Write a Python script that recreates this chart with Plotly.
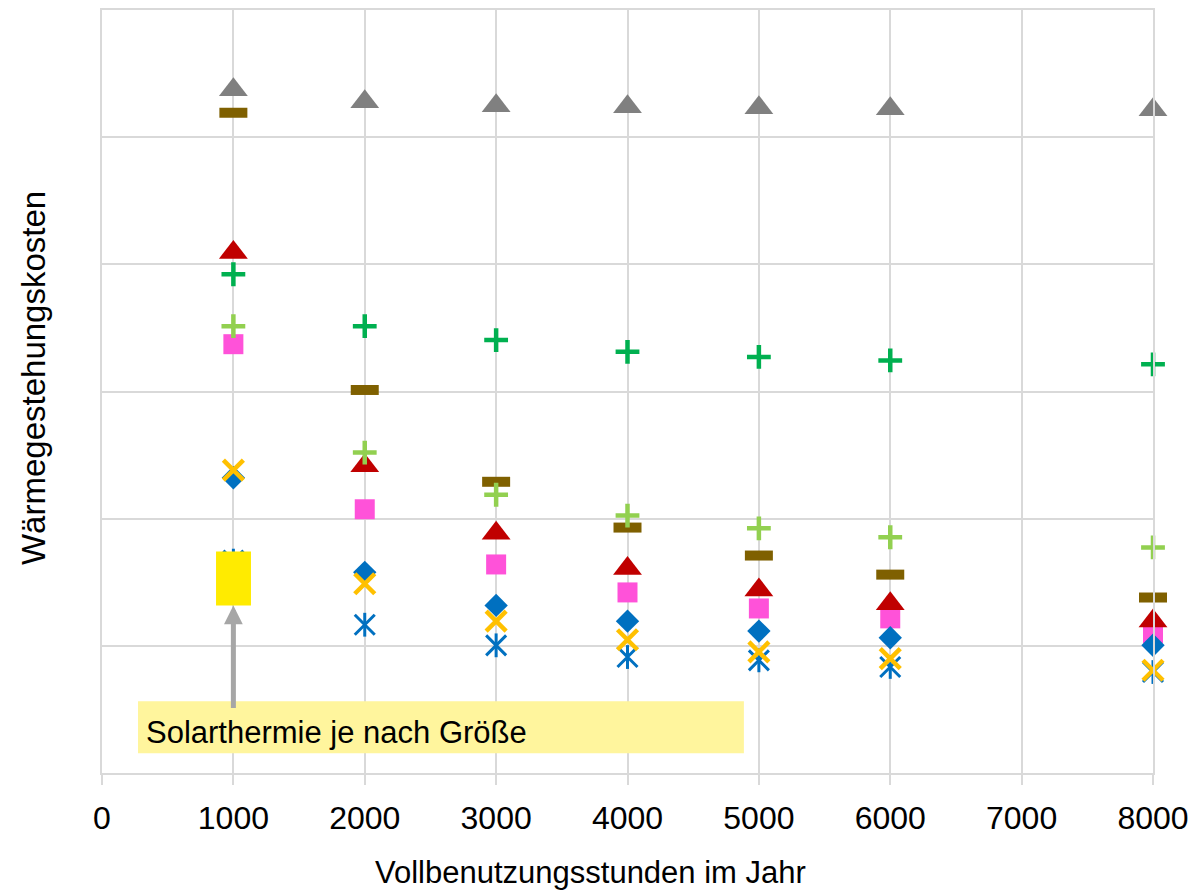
import plotly.graph_objects as go

# ---------------- data ----------------
hours = [1000, 2000, 3000, 4000, 5000, 6000, 8000]
x_ticks = [0, 1000, 2000, 3000, 4000, 5000, 6000, 7000, 8000]

gray_tri = [26.86, 26.39, 26.24, 26.20, 26.16, 26.12, 26.08]
brown_dash = [25.96, 15.06, 11.45, 9.65, 8.55, 7.80, 6.90]
red_tri = [20.47, 12.08, 9.43, 8.04, 7.20, 6.65, 5.98]
dgreen_plus = [19.61, 17.57, 17.02, 16.56, 16.36, 16.22, 16.07]
lgreen_plus = [17.57, 12.60, 10.94, 10.12, 9.62, 9.27, 8.87]
pink_sq = [16.86, 10.37, 8.20, 7.10, 6.47, 6.08, 5.49]
blue_dia = [11.61, 7.89, 6.59, 5.97, 5.58, 5.32, 5.02]
orange_x = [11.91, 7.44, 5.97, 5.24, 4.76, 4.50, 4.04]
blue_star = [8.35, 5.83, 5.02, 4.56, 4.43, 4.17, 3.97]

solar_x = [868, 1134]
solar_y = [6.59, 8.71]
note_box_x = [274, 4886]
note_box_y = [0.78, 2.82]
note_text = "Solarthermie je nach Größe"
x_title = "Vollbenutzungsstunden im Jahr"
y_title = "Wärmegestehungskosten"

NARROW = "Liberation Sans Narrow, Arial Narrow, Liberation Sans, Arial, sans-serif"
ARIAL = "Liberation Sans, Arial, sans-serif"

# page body has an 8px default margin -> figure sits at (8, 8)
W, H = 1185, 887
ML, MT = 94, 0
PW, PH = 1051, 765
MR, MB = W - ML - PW, H - MT - PH
SX0, SY1 = 102, 773  # screen px of plot left / bottom


def px_to_paper(sx, sy):
    return (sx - SX0) / PW, (SY1 - sy) / PH


fig = go.Figure()


def add(y, symbol, size, color, lw=0):
    marker = dict(symbol=symbol, size=size, color=color,
                  line=dict(color=color, width=lw))
    fig.add_trace(go.Scatter(x=hours, y=y, mode="markers", marker=marker,
                             cliponaxis=False, showlegend=False, hoverinfo="x+y"))


# draw order (bottom to top)
add(blue_star, "x-thin", 20, "#0070C0", 3)
add(blue_star, "line-ns", 17, "#0070C0", 3)
add(pink_sq, "square", 20, "#FF52D9", 0)
add(blue_dia, "diamond", 18, "#0070C0", 0)
add(orange_x, "x-thin", 20, "#FFC000", 4.5)
add(brown_dash, "line-ew", 20, "#7F6000", 10)
add(red_tri, "triangle-up", 25, "#C00000", 0)
add(gray_tri, "triangle-up", 25, "#808080", 0)
add(lgreen_plus, "cross-thin", 17, "#92D050", 4.5)
add(dgreen_plus, "cross-thin", 17, "#00B050", 4.5)

# yellow solar thermal range box
fig.add_shape(type="rect", xref="x", yref="y",
              x0=solar_x[0], x1=solar_x[1], y0=solar_y[0], y1=solar_y[1],
              fillcolor="#FFEB00", line=dict(width=0), layer="above")
# note box
fig.add_shape(type="rect", xref="x", yref="y",
              x0=note_box_x[0], x1=note_box_x[1], y0=note_box_y[0], y1=note_box_y[1],
              fillcolor="#FFF59D", line=dict(width=0), layer="above")

# arrow from note to box
fig.add_annotation(x=1000, y=solar_y[0], ax=1000, ay=2.50,
                   xref="x", yref="y", axref="x", ayref="y",
                   text="", showarrow=True, arrowhead=2, arrowsize=0.75,
                   arrowwidth=5, arrowcolor="#A6A6A6", standoff=0)
fig.add_annotation(x=320, y=1.61, xref="x", yref="y", xanchor="left",
                   yanchor="middle", text=note_text, showarrow=False,
                   font=dict(family=NARROW, size=31, color="#000000"))

# axis titles
tx, ty = px_to_paper(590, 873)
fig.add_annotation(x=tx, y=ty, xref="paper", yref="paper", text=x_title,
                   xanchor="center", yanchor="middle", showarrow=False,
                   font=dict(family=NARROW, size=31, color="#000000"))
yx, yy = px_to_paper(33, 377)
fig.add_annotation(x=yx, y=yy, xref="paper", yref="paper", textangle=-90,
                   xanchor="center", yanchor="middle", text=y_title, showarrow=False,
                   font=dict(family=ARIAL, size=33, color="#000000"))

grid = "#D9D9D9"
fig.update_layout(
    width=W, height=H, autosize=False,
    margin=dict(l=ML, r=MR, t=MT, b=MB, pad=0),
    paper_bgcolor="white", plot_bgcolor="white",
    xaxis=dict(range=[0, 8000], tickvals=x_ticks, ticktext=[str(v) for v in x_ticks],
               showgrid=True, gridcolor=grid, gridwidth=2, zeroline=False,
               showline=True, linecolor=grid, linewidth=2, mirror=True,
               ticks="outside", ticklen=10, tickwidth=2, tickcolor=grid,
               ticklabelstandoff=6,
               tickfont=dict(family=NARROW, size=32, color="#000000")),
    yaxis=dict(range=[0, 30], dtick=5, showticklabels=False,
               showgrid=True, gridcolor=grid, gridwidth=2, zeroline=False,
               showline=True, linecolor=grid, linewidth=2, mirror=True, ticks=""),
)

fig.write_html("out.html")
